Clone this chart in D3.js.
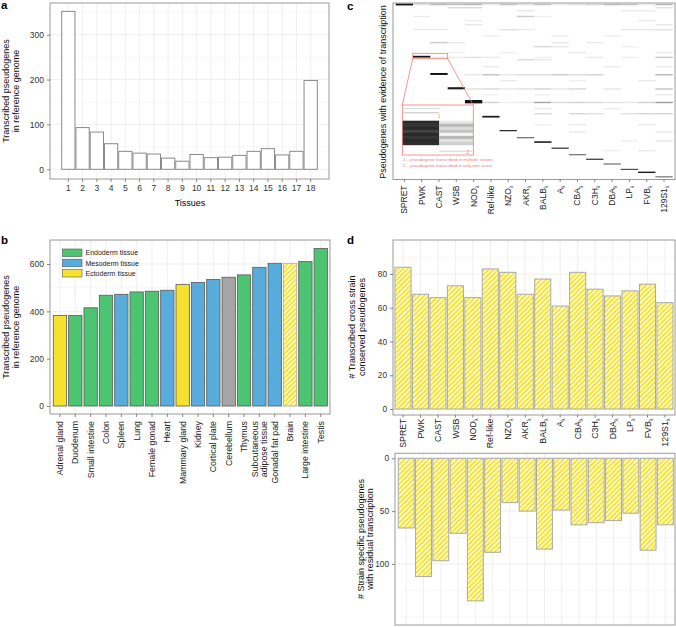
<!DOCTYPE html>
<html><head><meta charset="utf-8">
<script src="https://cdn.jsdelivr.net/npm/d3@7"></script>
<style>
body{margin:0;background:#fff}
text{font-family:"Liberation Sans",Arial,Helvetica,sans-serif}
</style>
</head><body>
<svg id="fig" width="676" height="627"></svg>
<script>
// ---------------- DATA ----------------
const aTissues = ["1","2","3","4","5","6","7","8","9","10","11","12","13","14","15","16","17","18"];
const aValues  = [352,93,83,57,40,36,34,25,18,33,26,27,31,40,46,32,40,198];

const bTissues = ["Adrenal gland","Duodenum","Small intestine","Colon","Spleen","Lung","Female gonad","Heart",
  "Mammary gland","Kidney","Cortical plate","Cerebellum","Thymus","Subcutaneous\nadipose tissue","Gonadal fat pad",
  "Brain","Large intestine","Testis"];
const bValues  = [382,382,415,468,472,482,485,489,514,522,535,544,554,586,603,603,610,666];
const bGerm    = ["ecto","endo","endo","endo","meso","endo","endo","meso","ecto","meso","meso","other","endo","meso","meso","ectoHatch","endo","endo"];
const legendLabels = ["Endoderm tissue","Mesoderm tissue","Ectoderm tissue"];
const legendKeys   = ["endo","meso","ecto"];

const strains    = ["SPRET","PWK","CAST","WSB","NOD","Ref-like","NZO","AKR","BALB","A","CBA","C3H","DBA","LP","FVB","129S1"];
const strainSub  = [false,false,false,false,true,false,true,true,true,true,true,true,true,true,true,true];

// panel c: strain-specific blocks (pseudogene rank start/end, shade 0..1)
const specStart = [0,298,396,477,550,640,721,761,785,821,858,884,911,942,958,984];
const specEnd   = [11,308,407,489,569,650,728,768,794,828,865,891,918,948,966,991];
const specShade = [1,1,1,0.95,1,0.95,0.9,0.6,0.95,0.85,0.6,0.85,0.6,0.8,0.95,0.55];
// panel c: rows shared among strains (rank, shade per strain)
const sharedRank = [2,20,37,70,94,117,145,180,219,242,276,303,316,356,402,436,483,516,560,595,624,687,727,780,835];
const sharedShade = [
 [0,0.15,0.35,0.3,0.35,0.1,0.3,0.15,0.3,0.1,0.15,0.2,0.35,0.3,0.1,0.35],
 [0,0,0,0.2,0.2,0,0,0,0,0,0,0,0,0,0,0.15],
 [0,0,0,0,0,0,0,0.12,0,0,0,0,0,0.1,0.1,0],
 [0,0.1,0,0,0,0,0,0.25,0.08,0,0,0,0,0,0,0],
 [0,0,0,0,0.08,0,0,0,0,0,0,0,0,0,0.1,0],
 [0,0,0,0,0.12,0,0,0,0,0,0,0,0,0,0,0.12],
 [0,0.1,0.1,0,0,0,0.15,0.1,0,0,0,0,0,0.12,0.12,0.15],
 [0,0,0,0,0,0.08,0,0,0,0.08,0,0,0.08,0,0,0],
 [0,0,0.25,0.12,0,0,0,0,0,0.1,0,0.1,0,0,0,0],
 [0,0,0,0,0,0,0,0,0.2,0.12,0,0,0,0.08,0,0],
 [0,0,0,0.08,0,0,0.08,0,0,0,0.1,0,0,0,0,0.1],
 [0,0,0.12,0.1,0.15,0.1,0,0,0.08,0,0,0.1,0,0.08,0,0.25],
 [0,0,0,0,0,0,0,0.18,0.12,0,0,0,0,0,0,0],
 [0,0,0,0,0,0.1,0,0,0,0,0,0,0.1,0,0,0.1],
 [0,0,0,0,0.12,0.3,0.12,0.18,0.18,0.25,0.18,0.22,0,0,0,0.35],
 [0,0,0,0,0,0,0.1,0,0,0,0.08,0,0,0,0.1,0],
 [0,0,0,0,0.15,0.2,0.12,0.15,0.22,0.12,0.2,0,0.12,0,0,0.3],
 [0,0,0,0,0,0.08,0,0,0.08,0,0,0,0,0,0,0.1],
 [0,0,0,0,0,0.22,0.08,0.12,0.45,0.18,0.22,0.2,0.15,0.12,0.22,0.5],
 [0,0,0,0,0,0,0,0,0.1,0,0,0,0.1,0,0,0],
 [0,0,0,0,0,0,0,0,0.18,0,0.2,0.15,0,0.15,0.2,0.2],
 [0,0,0,0,0,0,0,0,0.08,0,0.1,0,0,0,0.1,0],
 [0,0,0,0,0,0,0,0,0,0,0.1,0,0,0,0,0.1],
 [0,0,0,0,0,0,0,0,0,0,0,0,0,0.08,0,0.12],
 [0,0,0,0,0,0,0,0,0,0,0,0,0.08,0,0.1,0]
];
// inset stripes (multi-strain part / single-strain part shades)
const insetLeft  = [0.9,0.85,0.9,0.8,0.9,0.85,0.9,0.88];
const insetRight = [0.1,0.3,0.15,0.25,0.05,0.3,0.12,0.2];
const insetNotes = ["1 \u2013 pseudogene transcribed in multiple strains","2 \u2013 pseudogene transcribed in only one strain"];

const dConserved = [84,68,66,73,66,83,81,68,77,61,81,71,67,70,74,63];
const dSpecific  = [66,112,97,71,135,89,42,50,86,49,63,61,59,52,87,63];

// ---------------- STYLE ----------------
const COL = {endo:"#4cc472", meso:"#58acdc", ecto:"#f6e130", other:"#a5a5a5"};
const YEL = "#f6e430";
const GRID = "#ebebeb", GRIDMIN = "#f5f5f5", FRAME = "#9a9a9a", TICKTXT = "#333";

const svg = d3.select("#fig");
svg.append("rect").attr("width",676).attr("height",627).attr("fill","#fff");
const defs = svg.append("defs");
const pat = defs.append("pattern").attr("id","hatch").attr("patternUnits","userSpaceOnUse")
  .attr("width",3.4).attr("height",3.4).attr("patternTransform","rotate(45)");
pat.append("rect").attr("width",3.4).attr("height",3.4).attr("fill",YEL);
pat.append("rect").attr("width",1.3).attr("height",3.4).attr("fill","#fff");

function frame(x0,y0,x1,y1){
  svg.append("rect").attr("x",x0).attr("y",y0).attr("width",x1-x0).attr("height",y1-y0)
    .attr("fill","none").attr("stroke",FRAME).attr("stroke-width",1);
}
function hgrid(y, vals, x0, x1, col){
  svg.append("g").selectAll("line").data(vals).join("line")
    .attr("x1",x0).attr("x2",x1).attr("y1",d=>y(d)).attr("y2",d=>y(d))
    .attr("stroke",col).attr("stroke-width",0.8);
}
function vgrid(x, cats, y0, y1){
  svg.append("g").selectAll("line").data(cats).join("line")
    .attr("x1",d=>x(d)+x.bandwidth()/2).attr("x2",d=>x(d)+x.bandwidth()/2)
    .attr("y1",y0).attr("y2",y1).attr("stroke",GRID).attr("stroke-width",0.8);
}
function styleAxis(g, fs){
  g.select(".domain").remove();
  g.selectAll(".tick line").attr("stroke","#555").attr("stroke-width",0.7);
  g.selectAll(".tick text").attr("fill",TICKTXT).style("font-size",fs+"px")
    .style("font-family","'Liberation Sans',Arial,sans-serif");
}
function leftAxis(y, ticks, x, fs){
  const g = svg.append("g").attr("transform",`translate(${x},0)`)
    .call(d3.axisLeft(y).tickValues(ticks).tickSize(3).tickPadding(3));
  styleAxis(g, fs);
}
function rotLabels(x, names, subs, yTop, fs){
  const g = svg.append("g");
  names.forEach((n,i)=>{
    const lines = n.split("\n");
    const t = g.append("text")
      .attr("transform",`translate(${x(n)+x.bandwidth()/2},${yTop}) rotate(-90)`)
      .attr("text-anchor","end").attr("fill","#222").style("font-size",fs+"px");
    if(lines.length===1){
      t.attr("dy","0.35em");
      t.append("tspan").text(n);
      if(subs && subs[i]) t.append("tspan").text("\u03bb").style("font-size",(fs*0.62)+"px").attr("dy","0.4em");
    } else {
      lines.forEach((ln,k)=>{
        t.append("tspan").attr("x",0).attr("dy", k===0 ? "-0.2em" : "1.05em").text(ln);
      });
    }
  });
}
function ytitle(lines, xs, cy, fs){
  lines.forEach((ln,i)=>{
    svg.append("text").attr("transform",`translate(${xs[i]},${cy}) rotate(-90)`)
      .attr("text-anchor","middle").style("font-size",fs+"px").attr("fill","#111").text(ln);
  });
}
function panelLetter(t,x,y){
  svg.append("text").attr("x",x).attr("y",y).style("font-size","11.5px").style("font-weight","bold").attr("fill","#000").text(t);
}

// ---------------- PANEL A ----------------
{
  const x0=50,x1=329,y0=3,y1=179;
  const x = d3.scaleBand().domain(aTissues).range([61.2,317.8]).paddingInner(0.07).paddingOuter(0.035);
  const y = d3.scaleLinear().domain([0,300]).range([169.3,34.7]);
  hgrid(y,[50,150,250,350],x0,x1,GRIDMIN);
  hgrid(y,[0,100,200,300],x0,x1,GRID);
  vgrid(x,aTissues,y0,y1);
  svg.append("g").selectAll("rect").data(aValues).join("rect")
    .attr("x",(d,i)=>x(aTissues[i])).attr("width",x.bandwidth())
    .attr("y",d=>y(d)).attr("height",d=>y(0)-y(d))
    .attr("fill","#fff").attr("stroke","#8a8a8a").attr("stroke-width",1);
  frame(x0,y0,x1,y1);
  leftAxis(y,[0,100,200,300],x0,8.5);
  const gb = svg.append("g").attr("transform",`translate(0,${y1})`)
    .call(d3.axisBottom(x).tickSize(3).tickPadding(3));
  styleAxis(gb,8.5);
  svg.append("text").attr("x",190).attr("y",206).attr("text-anchor","middle").style("font-size","9px").text("Tissues");
  ytitle(["Transcribed pseudogenes","in reference genome"],[8.8,19],91,9);
  panelLetter("a",1,9);
}

// ---------------- PANEL B ----------------
{
  const x0=50,x1=330,y0=240,y1=414;
  const x = d3.scaleBand().domain(bTissues).range([52.3,328.4]).paddingInner(0.13).paddingOuter(0.065);
  const y = d3.scaleLinear().domain([0,600]).range([406,264]);
  hgrid(y,[100,300,500,700],x0,x1,GRIDMIN);
  hgrid(y,[0,200,400,600],x0,x1,GRID);
  vgrid(x,bTissues,y0,y1);
  svg.append("g").selectAll("rect").data(bValues).join("rect")
    .attr("x",(d,i)=>x(bTissues[i])).attr("width",x.bandwidth())
    .attr("y",d=>y(d)).attr("height",d=>y(0)-y(d))
    .attr("fill",(d,i)=> bGerm[i]==="ectoHatch" ? "url(#hatch)" : COL[bGerm[i]])
    .attr("stroke",(d,i)=> bGerm[i]==="ectoHatch" ? "#aaa" : "#5a5a5a").attr("stroke-width",0.8);
  frame(x0,y0,x1,y1);
  leftAxis(y,[0,200,400,600],x0,8.5);
  const gb = svg.append("g").attr("transform",`translate(0,${y1})`)
    .call(d3.axisBottom(x).tickSize(3).tickFormat(""));
  styleAxis(gb,8.5);
  rotLabels(x,bTissues,null,421,8.8);
  ytitle(["Transcribed pseudogenes","in reference genome"],[8.8,19],327,9);
  // legend
  const lg = svg.append("g");
  legendKeys.forEach((k,i)=>{
    const yy = 249 + i*10.2;
    lg.append("rect").attr("x",62.3).attr("y",yy).attr("width",19.7).attr("height",7.6)
      .attr("fill",COL[k]).attr("stroke","#5a5a5a").attr("stroke-width",0.6);
    lg.append("text").attr("x",85.5).attr("y",yy+6.3).style("font-size","7px").attr("fill","#222").text(legendLabels[i]);
  });
  panelLetter("b",1,244);
}

// ---------------- PANEL C ----------------
{
  const x0=393,x1=675,y0=3,y1=179.5;
  const x = d3.scaleBand().domain(strains).range([395.7,672.7]);
  const y = d3.scaleLinear().domain([0,1000]).range([3.5,179]);
  const shade = d3.scaleLinear().domain([0,1]).range(["#ffffff","#111111"]);
  const hm = svg.append("g");
  sharedRank.forEach((r,k)=>{
    sharedShade[k].forEach((v,j)=>{
      if(v<=0) return;
      hm.append("rect").attr("x",x(strains[j])).attr("width",x.bandwidth())
        .attr("y",y(r)).attr("height",y(r+8)-y(r)).attr("fill",shade(v*0.85));
    });
  });
  strains.forEach((s,j)=>{
    hm.append("rect").attr("x",x(s)).attr("width",x.bandwidth())
      .attr("y",y(specStart[j])).attr("height",Math.max(1.1,y(specEnd[j])-y(specStart[j])))
      .attr("fill",shade(specShade[j]));
  });
  // inset
  const red = "#f07a74";
  const ins = svg.append("g");
  const ix0=402.3, ix1=473.3, iy0=105, iy1=155, isplit=439.3;
  ins.append("rect").attr("x",ix0).attr("y",iy0).attr("width",ix1-ix0).attr("height",iy1-iy0).attr("fill","#fff");
  ins.append("line").attr("x1",ix0+1).attr("x2",isplit).attr("y1",108.5).attr("y2",108.5).attr("stroke","#d8d8d8").attr("stroke-width",1);
  ins.append("line").attr("x1",ix0+1).attr("x2",isplit).attr("y1",112.8).attr("y2",112.8).attr("stroke","#c4c4c4").attr("stroke-width",1);
  const bs = d3.scaleBand().domain(d3.range(insetLeft.length)).range([120.7,145]);
  insetLeft.forEach((v,i)=>{
    ins.append("rect").attr("x",ix0).attr("width",isplit-ix0).attr("y",bs(i)).attr("height",bs.bandwidth()+0.2).attr("fill",shade(v));
  });
  insetRight.forEach((v,i)=>{
    ins.append("rect").attr("x",isplit).attr("width",ix1-isplit).attr("y",bs(i)).attr("height",bs.bandwidth()+0.2).attr("fill",shade(v));
  });
  ins.append("line").attr("x1",isplit).attr("x2",ix1-1).attr("y1",151.2).attr("y2",151.2).attr("stroke","#d0d0d0").attr("stroke-width",1);
  ins.append("rect").attr("x",ix0).attr("y",iy0).attr("width",ix1-ix0).attr("height",iy1-iy0)
    .attr("fill","none").attr("stroke",red).attr("stroke-width",0.8);
  ins.append("rect").attr("x",412.7).attr("y",53.3).attr("width",35).attr("height",5.4)
    .attr("fill","none").attr("stroke",red).attr("stroke-width",0.8);
  ins.append("line").attr("x1",412.7).attr("y1",58.7).attr("x2",ix0).attr("y2",iy0).attr("stroke",red).attr("stroke-width",0.8);
  ins.append("line").attr("x1",447.7).attr("y1",58.7).attr("x2",ix1).attr("y2",iy0).attr("stroke",red).attr("stroke-width",0.8);
  ins.append("text").attr("x",438).attr("y",118.2).style("font-size","4.5px").attr("fill",red).text("1");
  ins.append("text").attr("x",466.5).attr("y",153.5).style("font-size","4.5px").attr("fill",red).text("2");
  insetNotes.forEach((t,i)=>{
    ins.append("text").attr("x",403).attr("y",161.3+i*5.2).style("font-size","4.4px").attr("fill",red).text(t);
  });
  frame(x0,y0,x1,y1);
  const gb = svg.append("g").attr("transform",`translate(0,${y1})`)
    .call(d3.axisBottom(x).tickSize(2.5).tickFormat(""));
  styleAxis(gb,8.5);
  rotLabels(x,strains,strainSub,185.5,8.5);
  ytitle(["Pseudogenes with evidence of transcription"],[385.5],92,9);
  panelLetter("c",347,9.5);
}

// ---------------- PANEL D (top) ----------------
{
  const x0=393,x1=675,y0=240,y1=415;
  const x = d3.scaleBand().domain(strains).range([394.3,673.7]).paddingInner(0.08).paddingOuter(0.04);
  const y = d3.scaleLinear().domain([0,80]).range([409,274]);
  hgrid(y,[10,30,50,70,90],x0,x1,GRIDMIN);
  hgrid(y,[0,20,40,60,80],x0,x1,GRID);
  vgrid(x,strains,y0,y1);
  svg.append("g").selectAll("rect").data(dConserved).join("rect")
    .attr("x",(d,i)=>x(strains[i])).attr("width",x.bandwidth())
    .attr("y",d=>y(d)).attr("height",d=>y(0)-y(d))
    .attr("fill","url(#hatch)").attr("stroke","#a9a9a9").attr("stroke-width",1);
  frame(x0,y0,x1,y1);
  leftAxis(y,[0,20,40,60,80],x0,8.3);
  const gb = svg.append("g").attr("transform",`translate(0,${y1})`)
    .call(d3.axisBottom(x).tickSize(2.5).tickFormat(""));
  styleAxis(gb,8.5);
  rotLabels(x,strains,strainSub,418.5,8.8);
  ytitle(["# Transcribed cross strain","conserved pseudogenes"],[355,364.5],327,9);
  panelLetter("d",347,244);
}

// ---------------- PANEL D (bottom) ----------------
{
  const x0=395,x1=675,y0=453.3,y1=625;
  const x = d3.scaleBand().domain(strains).range([397.6,674]).paddingInner(0.08).paddingOuter(0.04);
  const y = d3.scaleLinear().domain([0,100]).range([458.3,563.9]);
  hgrid(y,[25,75,125,150],x0,x1,GRIDMIN);
  hgrid(y,[0,50,100],x0,x1,GRID);
  vgrid(x,strains,y0,y1);
  svg.append("g").selectAll("rect").data(dSpecific).join("rect")
    .attr("x",(d,i)=>x(strains[i])).attr("width",x.bandwidth())
    .attr("y",y(0)).attr("height",d=>y(d)-y(0))
    .attr("fill","url(#hatch)").attr("stroke","#a9a9a9").attr("stroke-width",1);
  frame(x0,y0,x1,y1);
  leftAxis(y,[0,50,100],x0,8.3);
  ytitle(["# Strain specific pseudogenes","with residual transcription"],[363.5,372.5],539,9);
}
</script>
</body></html>
